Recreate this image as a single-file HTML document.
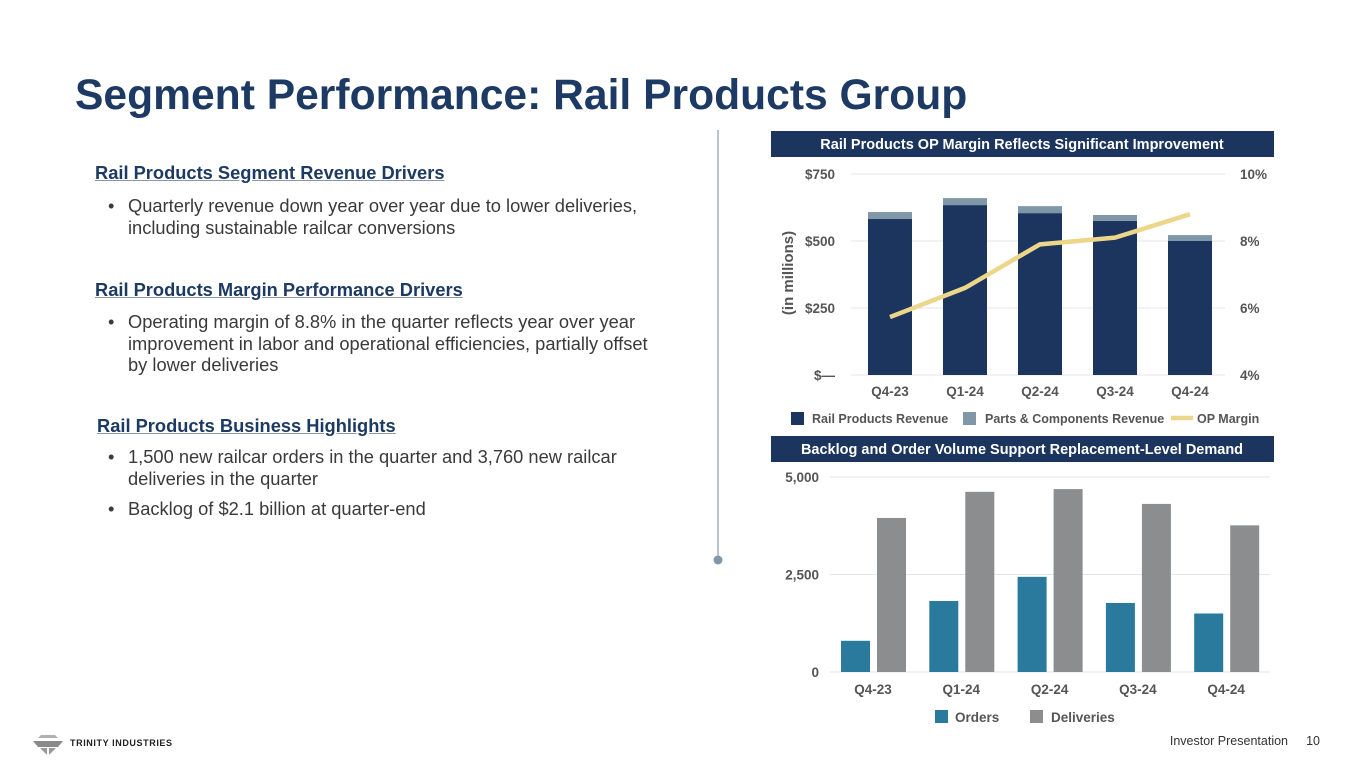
<!DOCTYPE html>
<html><head><meta charset="utf-8">
<style>
body{margin:0;width:1365px;height:768px;background:#fff;position:relative;overflow:hidden;font-family:"Liberation Sans",Arial,sans-serif;}
.abs{position:absolute;}
h1{position:absolute;left:75px;top:71px;margin:0;font-size:42.6px;font-weight:bold;color:#1c3a63;}
.hd{position:absolute;font-size:18.3px;font-weight:bold;color:#1c3a63;text-decoration:underline;text-decoration-color:#8a96a8;}
.bl{position:absolute;left:108px;font-size:18.3px;color:#3a3a3a;line-height:21.5px;width:570px;}
.bl span.b{position:absolute;left:0;}
.bl div{margin-left:20px;width:535px;}
</style></head><body>
<h1>Segment Performance: Rail Products Group</h1>

<div class="hd" style="left:95px;top:162px">Rail Products Segment Revenue Drivers</div>
<div class="bl" style="top:195px"><span class="b">•</span><div>Quarterly revenue down year over year due to lower deliveries, including sustainable railcar conversions</div></div>

<div class="hd" style="left:95px;top:279px">Rail Products Margin Performance Drivers</div>
<div class="bl" style="top:311px"><span class="b">•</span><div>Operating margin of 8.8% in the quarter reflects year over year improvement in labor and operational efficiencies, partially offset by lower deliveries</div></div>

<div class="hd" style="left:97px;top:415px">Rail Products Business Highlights</div>
<div class="bl" style="top:446px"><span class="b">•</span><div>1,500 new railcar orders in the quarter and 3,760 new railcar deliveries in the quarter</div></div>
<div class="bl" style="top:498px"><span class="b">•</span><div>Backlog of $2.1 billion at quarter-end</div></div>

<svg class="abs" style="left:0;top:0" width="1365" height="768">
  <line x1="718" y1="130" x2="718" y2="558" stroke="#9fb0bc" stroke-width="1.5"/>
  <circle cx="718" cy="560" r="4.5" fill="#7f97a6"/>
  <rect x="771" y="131" width="503" height="26" fill="#1c355e"/>
  <text x="1022" y="149" text-anchor="middle" fill="#fff" font-size="14.5" font-weight="bold">Rail Products OP Margin Reflects Significant Improvement</text>
  <rect x="771" y="436" width="503" height="26" fill="#1c355e"/>
  <text x="1022" y="454" text-anchor="middle" fill="#fff" font-size="14.5" font-weight="bold">Backlog and Order Volume Support Replacement-Level Demand</text>
  <g id="topchart"></g>
  <g id="botchart"></g>
  <g>
    <polygon points="33,741 63,741 58,747 38,747" fill="#8a8a8a"/>
    <polygon points="40,748 47,748 47,755" fill="#9a9a9a"/>
    <polygon points="49,748 56,748 49,755" fill="#9a9a9a"/>
    <polygon points="38,738 58,738 55,735 41,735" fill="#b0b0b0"/>
    <text x="70" y="746" font-size="9" font-weight="bold" fill="#222" letter-spacing="0.6">TRINITY INDUSTRIES</text>
  </g>
  <text x="1288" y="745" text-anchor="end" font-size="12.5" fill="#333">Investor Presentation</text>
  <text x="1320" y="745" text-anchor="end" font-size="12.5" fill="#333">10</text>
</svg>

<script>
const quarters = ["Q4-23","Q1-24","Q2-24","Q3-24","Q4-24"];
const railRevenue = [582, 634, 604, 575, 500];
const partsRevenue = [26, 26, 26, 22, 22];
const opMargin = [5.73, 6.6, 7.9, 8.1, 8.8];
const revTicks = ["$—","$250","$500","$750"];
const revTickVals = [0,250,500,750];
const marginTicks = [4,6,8,10];
const orders = [800, 1820, 2440, 1770, 1500];
const deliveries = [3950, 4620, 4690, 4310, 3760];
const unitTicks = [0,2500,5000];
const unitTickLabels = ["0","2,500","5,000"];

const NS="http://www.w3.org/2000/svg";
function mk(parent,tag,attrs,txt){const e=document.createElementNS(NS,tag);for(const k in attrs)e.setAttribute(k,attrs[k]);if(txt!==undefined)e.textContent=txt;parent.appendChild(e);return e;}

const tg=document.getElementById('topchart');
const yR=v=>375-(v/750)*201;
const yM=v=>375-(v-4)/6*201;
const xT=i=>890+i*75;
revTickVals.forEach((v,i)=>{
  const l=mk(tg,'line',{x1:851,x2:1225,y1:yR(v),y2:yR(v),stroke:'#e4e6ea','stroke-width':1});
  
  
  const t=mk(tg,'text',{x:835,y:yR(v)+5,'text-anchor':'end','font-size':13.5,'font-weight':'bold',fill:'#555'},revTicks[i]);
  
  
});
marginTicks.forEach(v=>{
  const t=mk(tg,'text',{x:1240,y:yM(v)+5,'font-size':13.5,'font-weight':'bold',fill:'#555'},v+'%');
  
  
});
const yt=mk(tg,'text',{x:0,y:0,transform:'translate(793,273) rotate(-90)','text-anchor':'middle','font-size':15,'font-weight':'bold',fill:'#555'},'(in millions)');


quarters.forEach((q,i)=>{
  const x=xT(i)-22;
  const r=mk(tg,'rect',{x:x,y:yR(railRevenue[i]),width:44,height:375-yR(railRevenue[i]),fill:'#1c355e'});
  
  
  const tot=railRevenue[i]+partsRevenue[i];
  const p=mk(tg,'rect',{x:x,y:yR(tot),width:44,height:yR(railRevenue[i])-yR(tot),fill:'#7f97a6'});
  
  
  const t=mk(tg,'text',{x:xT(i),y:396,'text-anchor':'middle','font-size':13.5,'font-weight':'bold',fill:'#555'},q);
  
  
});
const pl=mk(tg,'polyline',{points:opMargin.map((v,i)=>xT(i)+','+yM(v)).join(' '),fill:'none',stroke:'#ecd68a','stroke-width':4.5,'stroke-linejoin':'round'});


[[791,'#1c355e','rect','Rail Products Revenue',812],[963,'#7f97a6','rect','Parts & Components Revenue',985],[1171,'#ecd68a','line','OP Margin',1197]].forEach(d=>{
  let m;
  if(d[2]==='rect') m=mk(tg,'rect',{x:d[0],y:412,width:13,height:13,fill:d[1]});
  else m=mk(tg,'line',{x1:d[0],x2:d[0]+22,y1:418,y2:418,stroke:d[1],'stroke-width':4.5});
  
  
  const t=mk(tg,'text',{x:d[4],y:423,'font-size':12.5,'font-weight':'bold',fill:'#555'},d[3]);
  
  
});

const bg=document.getElementById('botchart');
const yU=v=>672-(v/5000)*195;
const xG=i=>873+i*88.3;
unitTicks.forEach((v,i)=>{
  const l=mk(bg,'line',{x1:830,x2:1270,y1:yU(v),y2:yU(v),stroke:'#e4e6ea','stroke-width':1});
  
  
  const t=mk(bg,'text',{x:819,y:yU(v)+5,'text-anchor':'end','font-size':13.5,'font-weight':'bold',fill:'#555'},unitTickLabels[i]);
  
  
});
quarters.forEach((q,i)=>{
  const c=xG(i);
  const o=mk(bg,'rect',{x:c-32,y:yU(orders[i]),width:29,height:672-yU(orders[i]),fill:'#2a7a9e'});
  
  
  const d=mk(bg,'rect',{x:c+4,y:yU(deliveries[i]),width:29,height:672-yU(deliveries[i]),fill:'#8b8d8f'});
  
  
  const t=mk(bg,'text',{x:c,y:694,'text-anchor':'middle','font-size':13.5,'font-weight':'bold',fill:'#555'},q);
  
  
});
[[935,'#2a7a9e','Orders',955],[1030,'#8b8d8f','Deliveries',1051]].forEach(d=>{
  const m=mk(bg,'rect',{x:d[0],y:710,width:13,height:13,fill:d[1]});
  
  
  const t=mk(bg,'text',{x:d[3],y:722,'font-size':13.5,'font-weight':'bold',fill:'#555'},d[2]);
  
  
});
</script>
</body></html>
